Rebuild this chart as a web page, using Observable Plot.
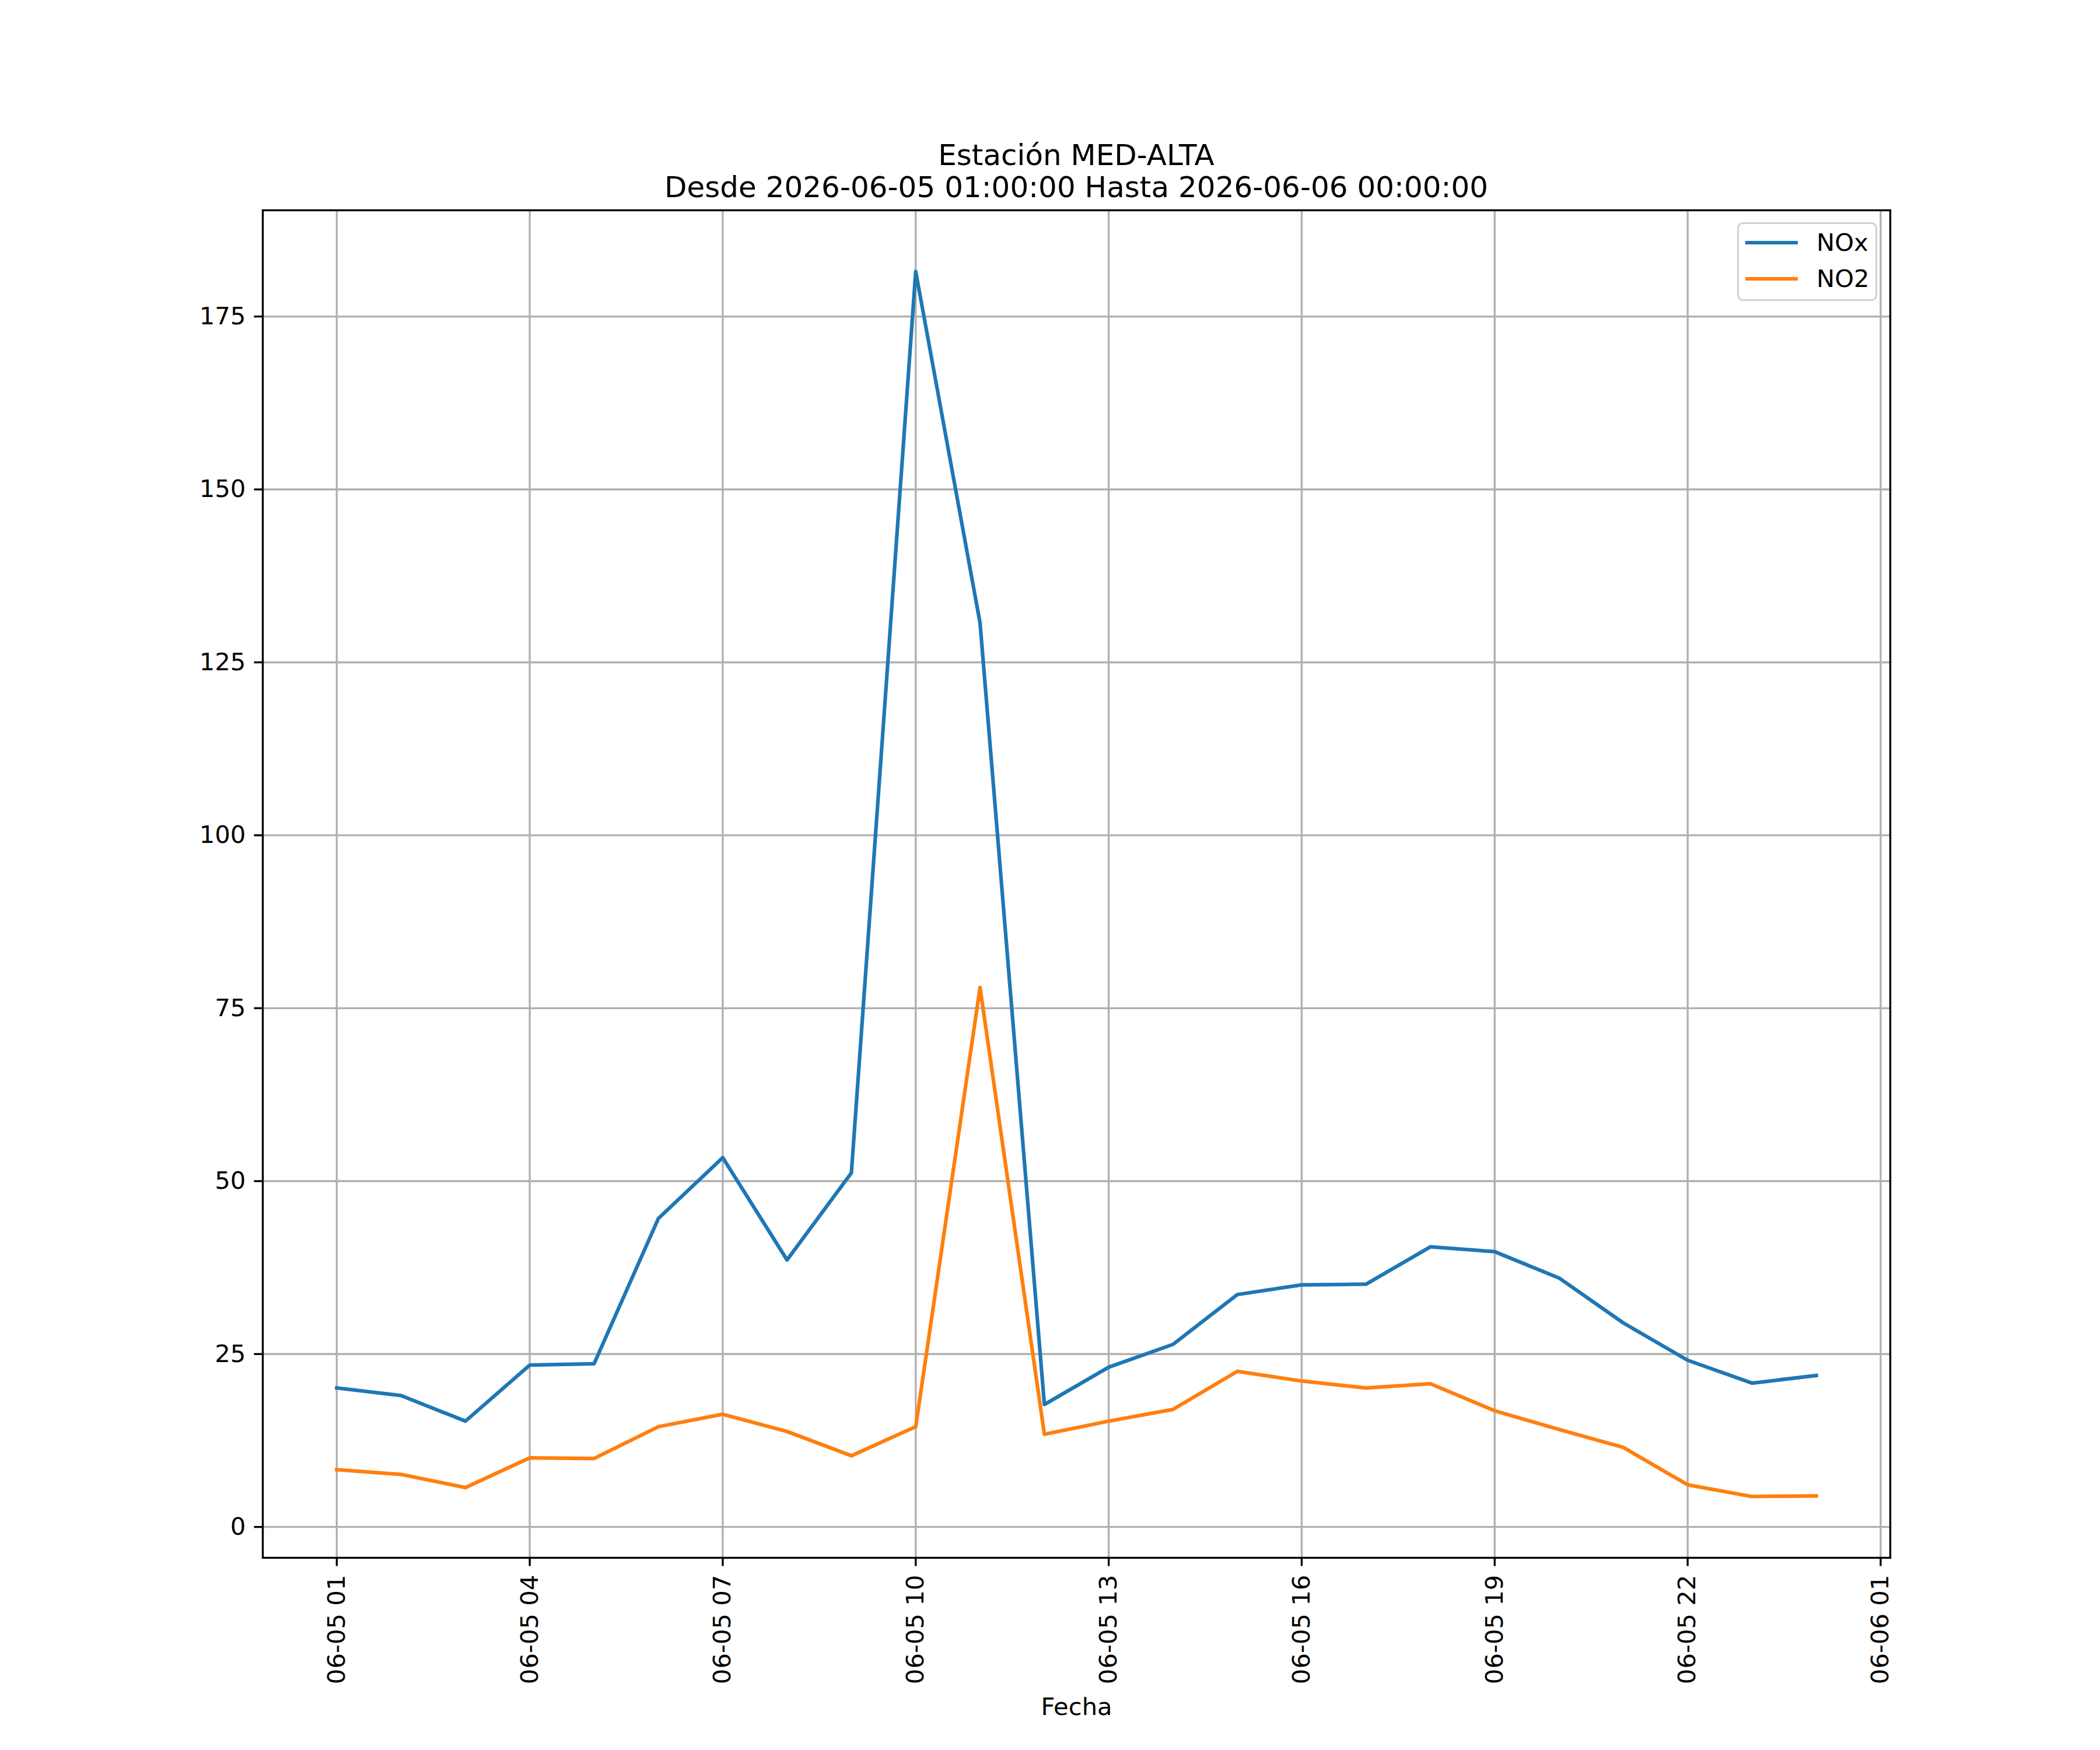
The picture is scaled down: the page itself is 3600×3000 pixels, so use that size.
<!DOCTYPE html>
<html>
<head>
<meta charset="utf-8">
<script src="https://cdn.jsdelivr.net/npm/d3@7"></script>
<script src="https://cdn.jsdelivr.net/npm/@observablehq/plot@0.6"></script>
<style>
  html, body { margin: 0; padding: 0; background: #fff; }
  #fig { position: relative; width: 3600px; height: 3000px; background: #fff; font-family: "DejaVu Sans", sans-serif; color: #000; }
  #title { position: relative; width: 3600px; height: 340px; }
  #title div { position: absolute; left: 450px; width: 2790px; text-align: center; font-size: 50px; line-height: 60px; white-space: nowrap; }
  #legend { position: absolute; left: 2978px; top: 381px; width: 234px; height: 129px; border: 3.33px solid #d0d0d0; border-radius: 10px; background: rgba(255,255,255,0.8); font-family: "DejaVu Sans", sans-serif; }
  .item { position: absolute; left: 11px; height: 50px; font-size: 41.7px; line-height: 50px; }
  .sw { position: absolute; left: 0; top: 22px; width: 90px; height: 6.25px; }
  .lab { position: absolute; left: 122px; top: 0; white-space: nowrap; }
</style>
</head>
<body>
<div id="fig">
  <div id="title"></div>
  <div id="chart"></div>
  <div id="legend"></div>
</div>
<script>
// ---- data ----
const titleLines = ["Estación MED-ALTA", "Desde 2026-06-05 01:00:00 Hasta 2026-06-06 00:00:00"];
const xLabel = "Fecha";
const times = [
  "2026-06-05T01:00Z","2026-06-05T02:00Z","2026-06-05T03:00Z","2026-06-05T04:00Z",
  "2026-06-05T05:00Z","2026-06-05T06:00Z","2026-06-05T07:00Z","2026-06-05T08:00Z",
  "2026-06-05T09:00Z","2026-06-05T10:00Z","2026-06-05T11:00Z","2026-06-05T12:00Z",
  "2026-06-05T13:00Z","2026-06-05T14:00Z","2026-06-05T15:00Z","2026-06-05T16:00Z",
  "2026-06-05T17:00Z","2026-06-05T18:00Z","2026-06-05T19:00Z","2026-06-05T20:00Z",
  "2026-06-05T21:00Z","2026-06-05T22:00Z","2026-06-05T23:00Z","2026-06-06T00:00Z"
];
const nox = [20.1, 19.0, 15.3, 23.4, 23.6, 44.6, 53.4, 38.6, 51.2, 181.5, 130.7, 17.7,
             23.1, 26.4, 33.6, 35.0, 35.1, 40.5, 39.8, 36.0, 29.5, 24.1, 20.8, 21.9];
const no2 = [8.3, 7.6, 5.7, 10.0, 9.9, 14.5, 16.3, 13.8, 10.3, 14.5, 78.0, 13.4,
             15.3, 17.0, 22.5, 21.1, 20.1, 20.7, 16.8, 14.1, 11.5, 6.1, 4.4, 4.5];
const seriesNames = ["NOx", "NO2"];
const seriesColors = ["#1f77b4", "#ff7f0e"];
const xTicks = ["2026-06-05T01:00Z","2026-06-05T04:00Z","2026-06-05T07:00Z","2026-06-05T10:00Z",
                "2026-06-05T13:00Z","2026-06-05T16:00Z","2026-06-05T19:00Z","2026-06-05T22:00Z",
                "2026-06-06T01:00Z"];
const yTicks = [0, 25, 50, 75, 100, 125, 150, 175];

// ---- build ----
const dates = times.map(t => new Date(t));
const rows = [];
[nox, no2].forEach((vals, si) => vals.forEach((v, i) => rows.push({t: dates[i], v, s: seriesNames[si]})));

const allV = nox.concat(no2);
const vmin = d3.min(allV), vmax = d3.max(allV);
const vpad = 0.05 * (vmax - vmin);
const t0 = +dates[0], t1 = +dates[dates.length - 1];
const tpad = 0.05 * (t1 - t0);

const LW = 6.25, GW = 3.33, FS = 41.7, TK = 14.6;

const titleEl = document.getElementById("title");
titleLines.forEach((s, i) => {
  const d = document.createElement("div");
  d.textContent = s;
  d.style.top = (236 + i * 55) + "px";
  titleEl.appendChild(d);
});

const chart = Plot.plot({
  width: 3600,
  height: 2660,
  marginTop: 20,
  marginBottom: 330,
  marginLeft: 450,
  marginRight: 360,
  style: {fontFamily: "DejaVu Sans, sans-serif", fontSize: FS + "px", color: "#000", background: "#fff", overflow: "visible"},
  x: {type: "utc", domain: [new Date(t0 - tpad), new Date(t1 + tpad)]},
  y: {domain: [vmin - vpad, vmax + vpad]},
  color: {domain: seriesNames, range: seriesColors},
  marks: [
    Plot.gridX(xTicks.map(t => new Date(t)), {stroke: "#b0b0b0", strokeOpacity: 1, strokeWidth: GW}),
    Plot.gridY(yTicks, {stroke: "#b0b0b0", strokeOpacity: 1, strokeWidth: GW}),
    Plot.line(rows, {x: "t", y: "v", z: "s", stroke: "s", strokeWidth: LW, strokeLinejoin: "round", strokeLinecap: "square"}),
    Plot.frame({stroke: "#000", strokeWidth: GW}),
    Plot.axisY(yTicks, {tickSize: TK, tickPadding: TK, strokeWidth: GW, stroke: "#000", fill: "#000", label: null}),
    Plot.axisX(xTicks.map(t => new Date(t)), {
      tickSize: TK, tickPadding: TK, strokeWidth: GW, stroke: "#000", fill: "#000",
      tickRotate: -90, tickFormat: d3.utcFormat("%m-%d %H"),
      label: xLabel, labelAnchor: "center", labelArrow: "none", labelOffset: 269
    })
  ]
});
document.getElementById("chart").appendChild(chart);

const leg = document.getElementById("legend");
seriesNames.forEach((n, i) => {
  const it = document.createElement("div");
  it.className = "item";
  it.style.top = (7 + i * 62) + "px";
  const sw = document.createElement("div");
  sw.className = "sw";
  sw.style.background = seriesColors[i];
  const lb = document.createElement("div");
  lb.className = "lab";
  lb.textContent = n;
  it.appendChild(sw); it.appendChild(lb);
  leg.appendChild(it);
});
</script>
</body>
</html>
